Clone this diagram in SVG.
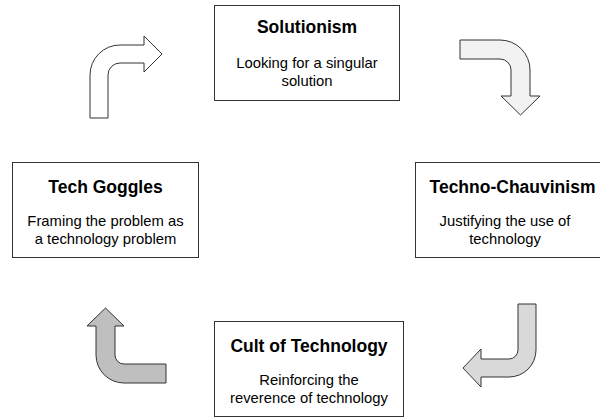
<svg xmlns="http://www.w3.org/2000/svg" width="600" height="419" viewBox="0 0 600 419">
<style>
.box{fill:#fff;stroke:#333;stroke-width:1}
.t{font-family:"Liberation Sans",Arial,sans-serif;font-weight:bold;font-size:17.5px;fill:#000;text-anchor:middle}
.s{font-family:"Liberation Sans",Arial,sans-serif;font-size:14.8px;fill:#000;text-anchor:middle}
.arr{stroke:#333;stroke-width:1;stroke-linejoin:miter}
</style>
<rect width="600" height="419" fill="#fff"/>
<g id="solutionism">
<rect class="box" x="214.5" y="5.5" width="185" height="95"/>
<text class="t" x="307" y="33">Solutionism</text>
<text class="s" x="307" y="68">Looking for a singular</text>
<text class="s" x="307" y="86">solution</text>
</g>
<g id="techno-chauvinism">
<rect class="box" x="415.5" y="162.5" width="195" height="95"/>
<text class="t" x="512.5" y="193">Techno-Chauvinism</text>
<text class="s" x="505" y="226">Justifying the use of</text>
<text class="s" x="505" y="244">technology</text>
</g>
<g id="cult-of-technology">
<rect class="box" x="214.5" y="321.5" width="189" height="95"/>
<text class="t" x="309" y="352">Cult of Technology</text>
<text class="s" x="309" y="385">Reinforcing the</text>
<text class="s" x="309" y="403">reverence of technology</text>
</g>
<g id="tech-goggles">
<rect class="box" x="12.5" y="162.5" width="186" height="95"/>
<text class="t" x="105.5" y="193">Tech Goggles</text>
<text class="s" x="105.5" y="226">Framing the problem as</text>
<text class="s" x="105.5" y="244">a technology problem</text>
</g>
<g id="connectors">
<path class="arr" fill="#ffffff" d="M90,118 L90,75 A30,30 0 0 1 120,45 L144,45 L144,36 L162,54 L144,72 L144,63 L120,63 A12,12 0 0 0 108,75 L108,118 Z"/>
<path class="arr" fill="#f2f2f2" d="M460,40 L500,40 A30,30 0 0 1 530,70 L530,96 L540,96 L520.5,115 L501,96 L511,96 L511,70 A11,11 0 0 0 500,59 L460,59 Z"/>
<path class="arr" fill="#d9d9d9" d="M518,304 L536,304 L536,350 A27,27 0 0 1 509,377 L481,377 L481,387 L463,368 L481,349 L481,359 L509,359 A9,9 0 0 0 518,350 Z"/>
<path class="arr" fill="#bfbfbf" d="M166,364 L124,364 A9,9 0 0 1 115,355 L115,326 L124,326 L105.5,308 L87,326 L96,326 L96,355 A28,28 0 0 0 124,383 L166,383 Z"/>
</g>
</svg>
